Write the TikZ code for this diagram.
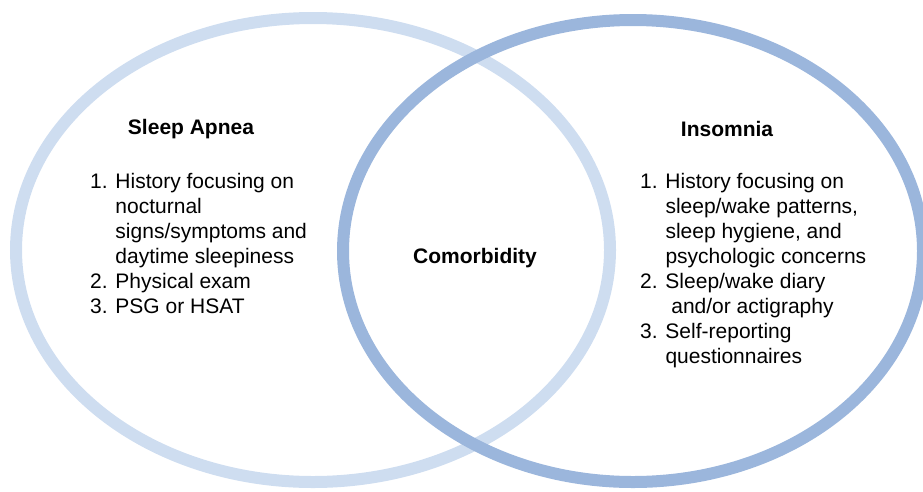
\documentclass[tikz,border=0pt]{standalone}
\usepackage{fontspec}
\setmainfont{Liberation Sans}
\usepackage{xcolor}
\definecolor{apneablue}{HTML}{CEDDF0}
\definecolor{insomniablue}{HTML}{9BB6DC}

\begin{document}
\begin{tikzpicture}[x=1pt,y=-1pt,
        ring/.style={line width=12pt},
        heading/.style={font=\fontsize{21}{25}\selectfont\bfseries, inner sep=0pt},
        itemlist/.style={font=\fontsize{21}{25}\selectfont, inner sep=0pt, anchor=base west}]
        \useasboundingbox (0,0) rectangle (923,491);
        % the two circles
        \draw[ring, apneablue] (313,250) ellipse [x radius=297pt, y radius=232pt];
        \draw[ring, insomniablue] (633,251) ellipse [x radius=290pt, y radius=231pt];
        % headings
        \node[heading] (apnea) at (191,129) {Sleep Apnea};
        \node[heading] (insomnia) at (727,129) {Insomnia};
        \node[heading] (comorb) at (475,258) {Comorbidity};
        % lists
        \node[itemlist] (apnealist) at (90,188) {\begin{tabular}[t]{@{}l@{ }l@{}}
            1. & History focusing on\\
               & nocturnal\\
               & signs/symptoms and\\
               & daytime sleepiness\\
            2. & Physical exam\\
            3. & PSG or HSAT
        \end{tabular}};
        \node[itemlist] (insomnialist) at (640,188) {\begin{tabular}[t]{@{}l@{ }l@{}}
            1. & History focusing on\\
               & sleep/wake patterns,\\
               & sleep hygiene, and\\
               & psychologic concerns\\
            2. & Sleep/wake diary\\
               & \ and/or actigraphy\\
            3. & Self-reporting\\
               & questionnaires
        \end{tabular}};
\end{tikzpicture}
\end{document}
